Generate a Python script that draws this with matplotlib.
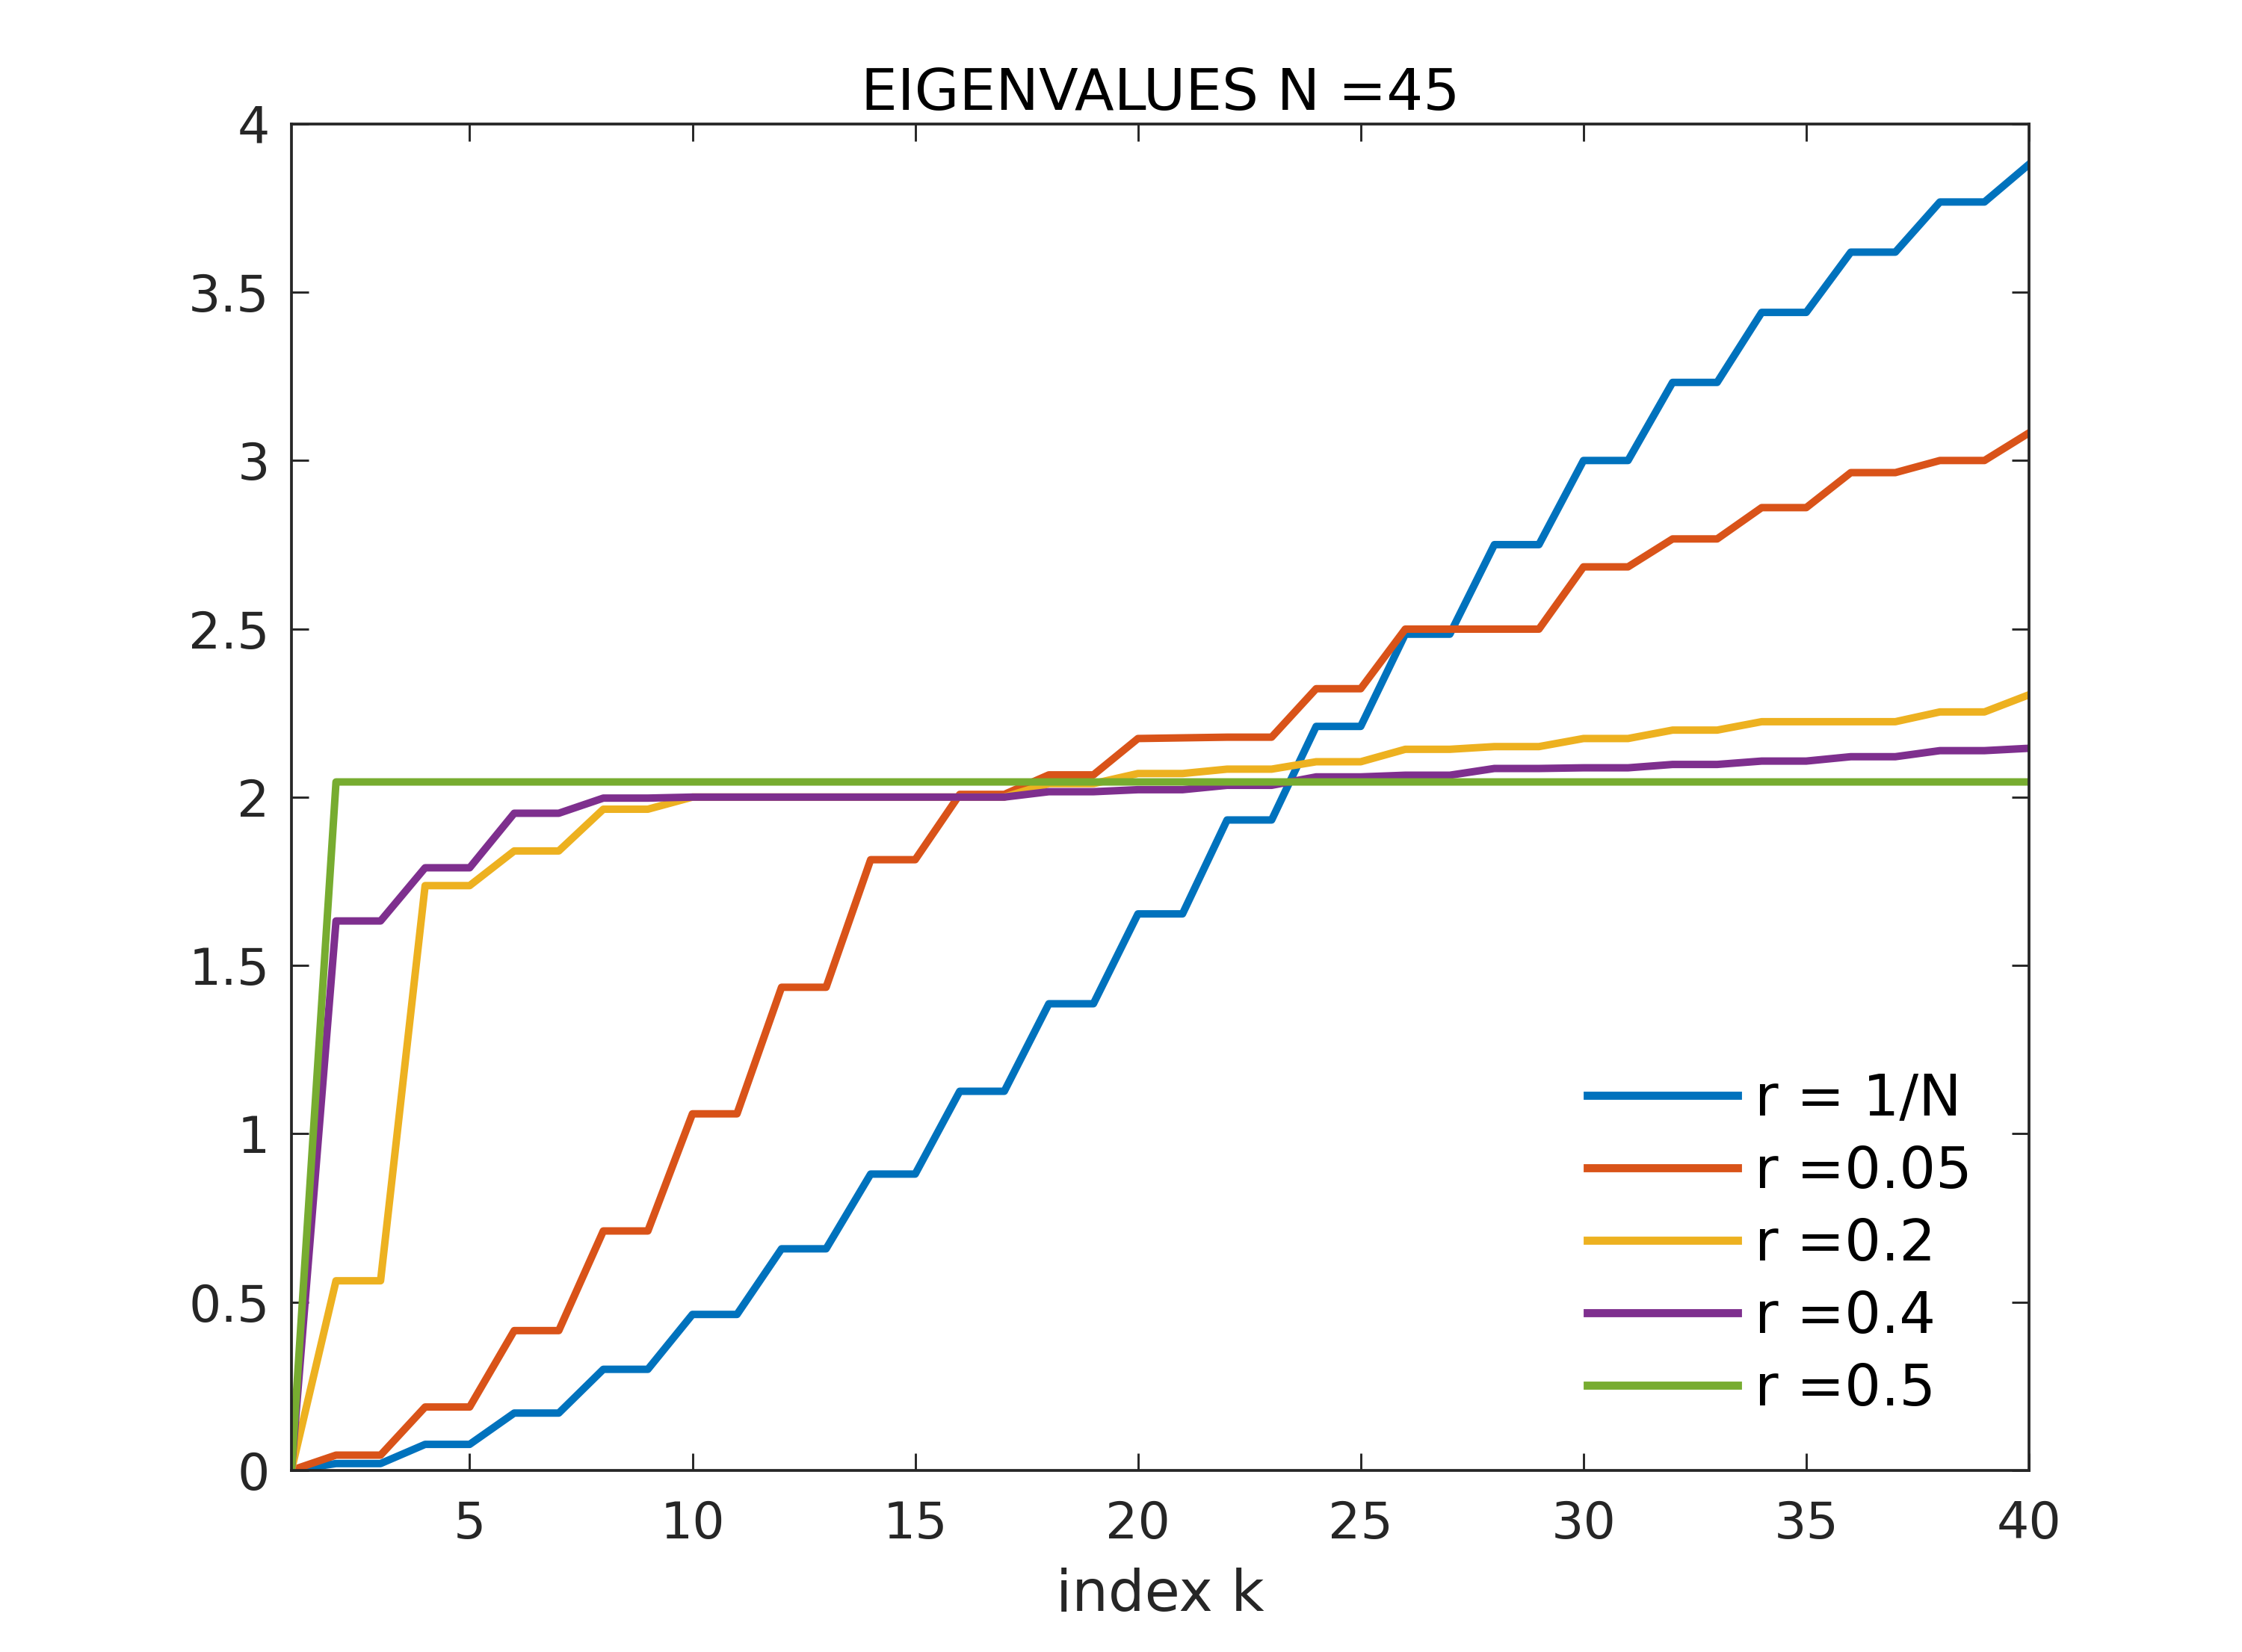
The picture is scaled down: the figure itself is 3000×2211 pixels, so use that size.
import matplotlib
matplotlib.use("Agg")
import matplotlib.pyplot as plt

# index k
k = list(range(1, 41))

# eigenvalues, one list per r
r_1N = [0, 0.02, 0.02, 0.077, 0.077, 0.17, 0.17, 0.30, 0.30, 0.463,
        0.463, 0.658, 0.658, 0.88, 0.88, 1.126, 1.126, 1.386, 1.386, 1.653,
        1.653, 1.932, 1.932, 2.21, 2.21, 2.484, 2.484, 2.75, 2.75, 3.0,
        3.0, 3.232, 3.232, 3.44, 3.44, 3.619, 3.619, 3.768, 3.768, 3.88]
r_005 = [0, 0.045, 0.045, 0.188, 0.188, 0.415, 0.415, 0.711, 0.711, 1.059,
         1.059, 1.435, 1.435, 1.814, 1.814, 2.008, 2.008, 2.066, 2.066, 2.174,
         2.176, 2.178, 2.178, 2.322, 2.322, 2.499, 2.499, 2.499, 2.499, 2.684,
         2.684, 2.767, 2.767, 2.86, 2.86, 2.964, 2.964, 3.0, 3.0, 3.082]
r_02 = [0, 0.563, 0.563, 1.737, 1.737, 1.84, 1.84, 1.964, 1.964, 2.0,
        2.0, 2.0, 2.0, 2.0, 2.0, 2.0, 2.0, 2.04, 2.04, 2.07,
        2.07, 2.083, 2.083, 2.105, 2.105, 2.142, 2.142, 2.15, 2.15, 2.174,
        2.174, 2.199, 2.199, 2.224, 2.224, 2.224, 2.224, 2.253, 2.253, 2.304]
r_04 = [0, 1.632, 1.632, 1.79, 1.79, 1.952, 1.952, 1.997, 1.997, 2.0,
        2.0, 2.0, 2.0, 2.0, 2.0, 2.0, 2.0, 2.016, 2.016, 2.022,
        2.022, 2.035, 2.035, 2.06, 2.06, 2.065, 2.065, 2.085, 2.085, 2.087,
        2.087, 2.097, 2.097, 2.107, 2.107, 2.12, 2.12, 2.138, 2.138, 2.145]
r_05 = [0, 2.045, 2.045, 2.045, 2.045, 2.045, 2.045, 2.045, 2.045, 2.045,
        2.045, 2.045, 2.045, 2.045, 2.045, 2.045, 2.045, 2.045, 2.045, 2.045,
        2.045, 2.045, 2.045, 2.045, 2.045, 2.045, 2.045, 2.045, 2.045, 2.045,
        2.045, 2.045, 2.045, 2.045, 2.045, 2.045, 2.045, 2.045, 2.045, 2.045]

series = [r_1N, r_005, r_02, r_04, r_05]
labels = ["r = 1/N", "r =0.05", "r =0.2", "r =0.4", "r =0.5"]
colors = ["#0072BD", "#D95319", "#EDB120", "#7E2F8E", "#77AC30"]

x_ticks = [5, 10, 15, 20, 25, 30, 35, 40]
y_ticks = [0, 0.5, 1, 1.5, 2, 2.5, 3, 3.5, 4]
y_ticklabels = ["0", "0.5", "1", "1.5", "2", "2.5", "3", "3.5", "4"]

plt.rcParams['font.family'] = ['DejaVu Sans']
fig = plt.figure(figsize=(10, 7.37), dpi=300)
# matlab default axes box
ax = fig.add_axes([0.13, 0.11, 0.775, 0.815])

for y, lab, c in zip(series, labels, colors):
    ax.plot(k, y, color=c, lw=2.4, label=lab, solid_joinstyle='round')

ax.set_xlim(1, 40)
ax.set_ylim(0, 4)
ax.set_xticks(x_ticks)
ax.set_yticks(y_ticks)
ax.set_yticklabels(y_ticklabels)

dark = "#262626"
ax.tick_params(direction='in', length=5.6, width=0.7, top=True, right=True,
               labelsize=16.4, colors=dark)
ax.tick_params(axis='x', pad=9.5)
ax.tick_params(axis='y', pad=7)
for s in ax.spines.values():
    s.set_color(dark)
    s.set_linewidth(0.9)

ax.set_title("EIGENVALUES N =45", fontsize=18.5, color='black', pad=4.6)
ax.set_xlabel("index k", fontsize=18.4, color=dark, labelpad=6)

leg = ax.legend(loc='upper left', bbox_to_anchor=(0.7457, 0.2957), frameon=False,
                fontsize=18.4, handlelength=2.62, handletextpad=0.3,
                labelspacing=0.30, borderpad=0, borderaxespad=0)
for h in leg.get_lines():
    h.set_linewidth(2.6)

fig.savefig("out.png", dpi=300)
